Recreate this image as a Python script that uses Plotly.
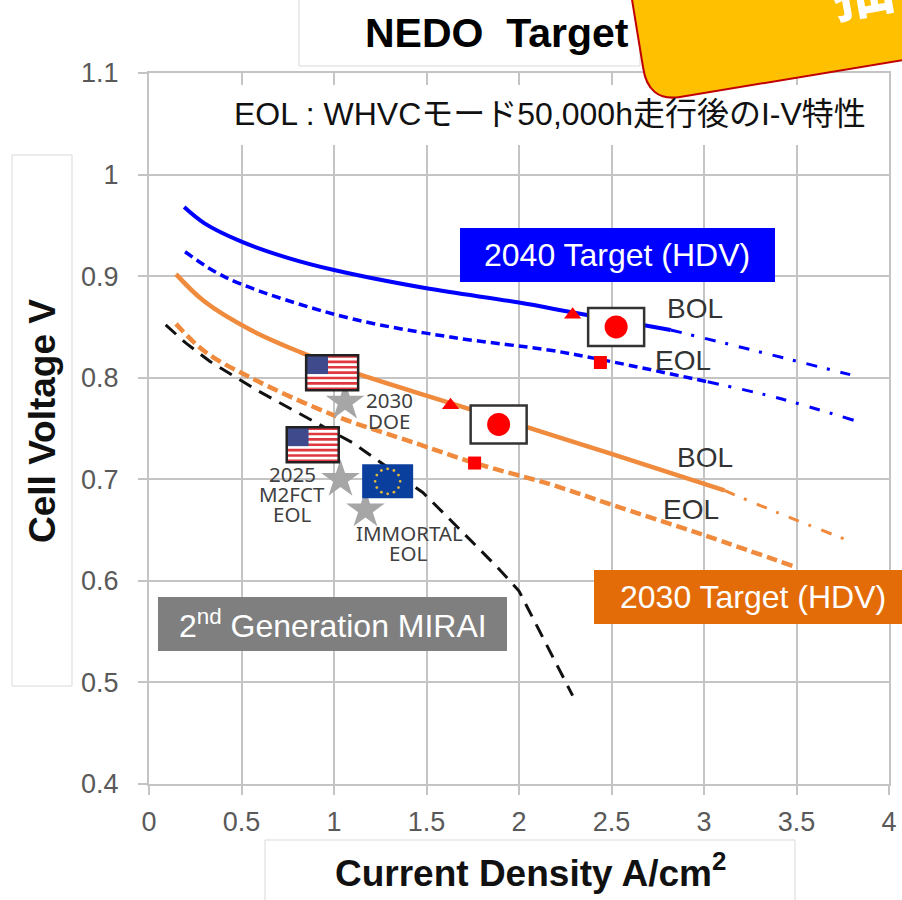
import plotly.graph_objects as go
import math

# Polarisation curves: current density (A/cm2) against cell voltage (V)
blue_bol_x = [0.19, 0.30, 0.50, 0.75, 1.00, 1.50, 2.00, 2.30, 2.82]
blue_bol_y = [0.968, 0.952, 0.934, 0.918, 0.906, 0.888, 0.874, 0.864, 0.847]
blue_bol_ext_x = [2.82, 3.20, 3.79]
blue_bol_ext_y = [0.847, 0.830, 0.803]
blue_eol_x = [0.195, 0.35, 0.50, 0.75, 1.12, 1.63, 2.17, 2.44, 3.02]
blue_eol_y = [0.924, 0.905, 0.892, 0.876, 0.857, 0.840, 0.827, 0.818, 0.796]
blue_eol_ext_x = [3.02, 3.40, 3.81]
blue_eol_ext_y = [0.796, 0.780, 0.758]
orange_bol_x = [0.146, 0.30, 0.55, 0.82, 1.11, 1.63, 2.17, 2.50, 3.11]
orange_bol_y = [0.902, 0.875, 0.847, 0.825, 0.805, 0.775, 0.744, 0.725, 0.689]
orange_bol_ext_x = [3.11, 3.40, 3.79]
orange_bol_ext_y = [0.689, 0.667, 0.639]
orange_eol_x = [0.146, 0.30, 0.55, 1.00, 1.45, 1.76, 2.17, 2.50, 3.00, 3.49]
orange_eol_y = [0.853, 0.826, 0.800, 0.763, 0.735, 0.716, 0.695, 0.675, 0.645, 0.614]
mirai_x = [0.09, 0.20, 0.33, 0.59, 0.80, 1.10, 1.195, 1.48, 1.64, 1.885, 2.00, 2.29]
mirai_y = [0.852, 0.834, 0.816, 0.787, 0.766, 0.736, 0.724, 0.687, 0.658, 0.613, 0.590, 0.487]

# Target and benchmark points
bol_points_x = [2.29, 1.63]
bol_points_y = [0.862, 0.773]
eol_points_x = [2.44, 1.76]
eol_points_y = [0.815, 0.716]
star_x = [1.06, 1.035, 1.17]
star_y = [0.776, 0.700, 0.670]
japan_flags = [(2.525, 0.850), (1.89, 0.754)]
us_flags = [(0.99, 0.805), (0.885, 0.734)]
eu_flag = (1.29, 0.698)

x_ticks = [0, 0.5, 1, 1.5, 2, 2.5, 3, 3.5, 4]
x_labels = ["0", "0.5", "1", "1.5", "2", "2.5", "3", "3.5", "4"]
y_ticks = [0.4, 0.5, 0.6, 0.7, 0.8, 0.9, 1.0, 1.1]
y_labels = ["0.4", "0.5", "0.6", "0.7", "0.8", "0.9", "1", "1.1"]

W, H = 902, 900
SANS = "Liberation Sans, Noto Sans CJK JP, sans-serif"
SMALL = "Noto Sans, sans-serif"
BLUE = "#0000ff"
ORANGE = "#f08a3c"
GRID = "#c4c4c4"
TEXT = "#333333"


def px(v):
    return v / W


def py(v):
    return 1 - v / H


fig = go.Figure()


def curve(x, y, color, width, dash="solid", spline=True):
    fig.add_trace(go.Scatter(
        x=x, y=y, mode="lines", hoverinfo="skip", showlegend=False,
        line=dict(color=color, width=width, dash=dash,
                  shape="spline" if spline else "linear", smoothing=1.0),
    ))


DASHDOT = "11px,10px,3px,11px"
curve(mirai_x, mirai_y, "#111111", 3, "14px,9px", spline=False)
curve(blue_bol_x, blue_bol_y, BLUE, 4)
curve(blue_bol_ext_x, blue_bol_ext_y, BLUE, 3, DASHDOT)
curve(blue_eol_x, blue_eol_y, BLUE, 3.5, "9px,5px")
curve(blue_eol_ext_x, blue_eol_ext_y, BLUE, 3, DASHDOT)
curve(orange_bol_x, orange_bol_y, ORANGE, 4.5)
curve(orange_bol_ext_x, orange_bol_ext_y, ORANGE, 3, DASHDOT)
curve(orange_eol_x, orange_eol_y, ORANGE, 4.5, "11px,5px")

fig.add_trace(go.Scatter(
    x=star_x, y=star_y, mode="markers", hoverinfo="skip", showlegend=False,
    marker=dict(symbol="star", size=29, color="#a6a6a6", line=dict(width=0)),
))
fig.add_trace(go.Scatter(
    x=bol_points_x, y=bol_points_y, mode="markers", hoverinfo="skip", showlegend=False,
    marker=dict(symbol="triangle-up", size=15, color="#ff0000", line=dict(width=0)),
))
fig.add_trace(go.Scatter(
    x=eol_points_x, y=eol_points_y, mode="markers", hoverinfo="skip", showlegend=False,
    marker=dict(symbol="square", size=13, color="#ff0000", line=dict(width=0)),
))

shapes = []


def page_rect(x0, y0, x1, y1, fill, line=None, lw=1):
    shapes.append(dict(
        type="rect", xref="paper", yref="paper",
        x0=px(x0), x1=px(x1), y0=py(y0), y1=py(y1),
        fillcolor=fill, line=dict(color=line or fill, width=lw if line else 0),
    ))


def anchored(kind, cx, cy, dx0, dy0, dx1, dy1, fill, line=None, lw=0):
    # Shape sized in pixels around an anchor given in data units
    shapes.append(dict(
        type=kind, xref="x", yref="y",
        xsizemode="pixel", ysizemode="pixel", xanchor=cx, yanchor=cy,
        x0=dx0, x1=dx1, y0=dy0, y1=dy1,
        fillcolor=fill, line=dict(color=line or fill, width=lw),
    ))


# Text panels that sit over the plot area
page_rect(299, -4, 640, 66, "#ffffff", "#d9d9d9", 1)
page_rect(200, 85, 886, 145, "#ffffff")
page_rect(12, 155, 72, 686, "#ffffff", "#d9d9d9", 1)
page_rect(265, 840, 795, 904, "#ffffff", "#d9d9d9", 1)
page_rect(460, 228, 775, 282, BLUE)
page_rect(594, 570, 906, 624, "#e36c09")
page_rect(158, 597, 507, 651, "#7f7f7f")

# Japanese flags
for cx, cy in japan_flags:
    anchored("rect", cx, cy, -28, -19, 28, 19, "#ffffff", "#333333", 2.5)
    anchored("circle", cx, cy, -11.5, -11.5, 11.5, 11.5, "#ff0000")

# US flags: thirteen stripes with a blue canton
for cx, cy in us_flags:
    fw, fh = 52, 35
    anchored("rect", cx, cy, -fw / 2, -fh / 2, fw / 2, fh / 2, "#ffffff")
    for i in range(0, 13, 2):
        top = fh / 2 - i * fh / 13
        anchored("rect", cx, cy, -fw / 2, top - fh / 13, fw / 2, top, "#e0383e")
    anchored("rect", cx, cy, -fw / 2, -fh * 0.04, -fw * 0.08, fh / 2, "#3f4a8c")
    anchored("rect", cx, cy, -fw / 2, -fh / 2, fw / 2, fh / 2,
             "rgba(0,0,0,0)", "#222222", 2.5)

# EU flag with its ring of twelve stars
anchored("rect", eu_flag[0], eu_flag[1], -25.5, -17, 25.5, 17, "#0b3f9e")
for i in range(12):
    a = math.radians(30 * i)
    sx, sy = 12.5 * math.cos(a), 12.5 * math.sin(a)
    anchored("circle", eu_flag[0], eu_flag[1], sx - 1.4, sy - 1.4, sx + 1.4, sy + 1.4, "#e2b93b")

# Rounded call-out running off the top right corner
cp = [(628, -25), (643, 67), (648, 102), (680, 97), (915, 58), (915, -30)]
path = (f"M {px(cp[0][0])},{py(cp[0][1])} L {px(cp[1][0])},{py(cp[1][1])} "
        f"Q {px(cp[2][0])},{py(cp[2][1])} {px(cp[3][0])},{py(cp[3][1])} "
        f"L {px(cp[4][0])},{py(cp[4][1])} L {px(cp[5][0])},{py(cp[5][1])} Z")
shapes.append(dict(type="path", xref="paper", yref="paper", path=path,
                   fillcolor="#ffc000", line=dict(color="#c00000", width=2)))

annotations = []


def label(text, x, y, size, color=TEXT, bold=False, angle=0, family=SANS):
    if bold:
        text = f"<b>{text}</b>"
    annotations.append(dict(
        text=text, xref="paper", yref="paper", x=px(x), y=py(y),
        xanchor="center", yanchor="middle", showarrow=False, textangle=angle,
        font=dict(family=family, size=size, color=color),
    ))


label("NEDO  Target", 497, 33, 41, "#000000", bold=True)
label("EOL : WHVCモード50,000h走行後のI-V特性", 550, 114, 32, "#111111")
label("2040 Target (HDV)", 617, 255, 32, "#ffffff")
label("2030 Target (HDV)", 753, 597, 32, "#ffffff")
label("2<sup>nd</sup> Generation MIRAI", 333, 624, 32, "#ffffff")
label("BOL", 695, 308, 28)
label("EOL", 683, 360, 28)
label("BOL", 705, 458, 28)
label("EOL", 691, 509, 28)
for text, x, y in [("2030", 389, 400), ("DOE", 389, 421),
                   ("2025", 292, 474), ("M2FCT", 292, 494), ("EOL", 292, 514),
                   ("IMMORTAL", 409, 533), ("EOL", 408, 553)]:
    label(text, x, y, 20.5, "#404040", family=SMALL)
label("Cell Voltage V", 42, 421, 37, "#111111", bold=True, angle=-90)
label("Current Density A/cm<sup>2</sup>", 530, 870, 37, "#111111", bold=True)
label("抽", 861, -14, 62, "#ffffff", bold=True, angle=-10, family="Noto Sans CJK JP")

fig.update_layout(
    width=W, height=H, autosize=False,
    margin=dict(l=0, r=0, t=0, b=0, autoexpand=False),
    paper_bgcolor="#ffffff", plot_bgcolor="#ffffff",
    showlegend=False,
    shapes=shapes, annotations=annotations,
    font=dict(family=SANS, color="#595959", size=27),
    xaxis=dict(
        domain=[px(149), px(889)], range=[0, 4],
        tickvals=x_ticks, ticktext=x_labels,
        showgrid=True, gridcolor=GRID, gridwidth=2, zeroline=False,
        showline=True, linecolor=GRID, linewidth=2, mirror=True,
        ticks="outside", ticklen=9, tickwidth=2, tickcolor=GRID,
        ticklabelstandoff=4,
        tickfont=dict(size=27, color="#595959"), anchor="y",
    ),
    yaxis=dict(
        domain=[py(784), py(73)], range=[0.4, 1.1],
        tickvals=y_ticks, ticktext=y_labels,
        showgrid=True, gridcolor=GRID, gridwidth=2, zeroline=False,
        showline=True, linecolor=GRID, linewidth=2, mirror=True,
        ticks="outside", ticklen=9, tickwidth=2, tickcolor=GRID,
        ticklabelstandoff=14,
        tickfont=dict(size=27, color="#595959"), anchor="x",
    ),
)

fig.write_html("out.html")
